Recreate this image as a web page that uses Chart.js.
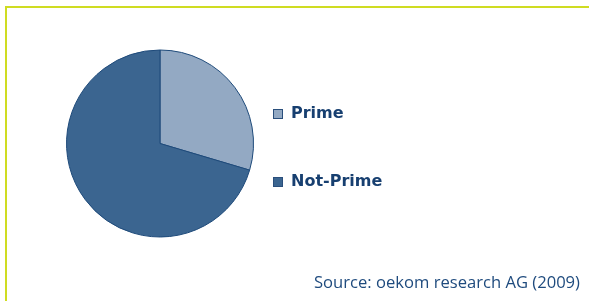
<!DOCTYPE html>
<html lang="en"><head>
<title>Prime share</title>
<style>
* { margin: 0; padding: 0 }
body { background: #fff; width: 589px; height: 301px; overflow: hidden; }
#box { position: relative; width: 589px; height: 301px; }
</style>
<script src="https://cdn.jsdelivr.net/npm/chart.js"></script>
<script>

const labels = ["Prime", "Not-Prime"];
const values = [29.6, 70.4];
const colors = ["#93a9c3", "#3b6590"];
const sourceText = "Source: oekom research AG (2009)";

// frame lines + legend + source note, drawn on the canvas
const extras = {
    id: "extras",
    beforeDraw(chart) {
        const ctx = chart.ctx;
        ctx.save();
        ctx.fillStyle = "#cfdc22";
        ctx.fillRect(5, 6, 584, 2);
        ctx.fillRect(5, 6, 2, 295);
        ctx.restore();
    },
    afterDraw(chart) {
        const ctx = chart.ctx;
        ctx.save();
        const rows = [114, 182];
        for (let i = 0; i < labels.length; i++) {
            const y = rows[i];
            ctx.fillStyle = colors[i];
            ctx.fillRect(273, y - 5, 10, 10);
            ctx.strokeStyle = "#2a4f7c";
            ctx.lineWidth = 1;
            ctx.strokeRect(273.5, y - 4.5, 9, 9);
            ctx.fillStyle = "#173f70";
            ctx.font = "bold 16px 'DejaVu Sans'";
            ctx.textBaseline = "middle";
            ctx.textAlign = "left";
            ctx.fillText(labels[i], 291, y);
        }
        ctx.fillStyle = "#1f4b7e";
        ctx.font = "500 16.6px 'Open Sans'";
        ctx.textAlign = "right";
        ctx.textBaseline = "alphabetic";
        ctx.fillText(sourceText, 580, 288);
        ctx.restore();
    }
};

function bodyOnLoad() {
    new Chart(document.getElementById("PieChart"), {
        type: "pie",
        data: {
            labels: labels,
            datasets: [{
                data: values,
                backgroundColor: colors,
                borderColor: "#1e4a7a",
                borderWidth: 1,
            }],
        },
        options: {
            responsive: false,
            animation: false,
            layout: { padding: { left: 66, right: 335, top: 49, bottom: 63 } },
            plugins: {
                legend: { display: false },
                tooltip: { enabled: false },
            },
        },
        plugins: [extras],
    });
}
</script>
</head><body onload="bodyOnLoad()">
<div id="box">
  <canvas id="PieChart" width="589" height="301"></canvas>
</div>
</body></html>
